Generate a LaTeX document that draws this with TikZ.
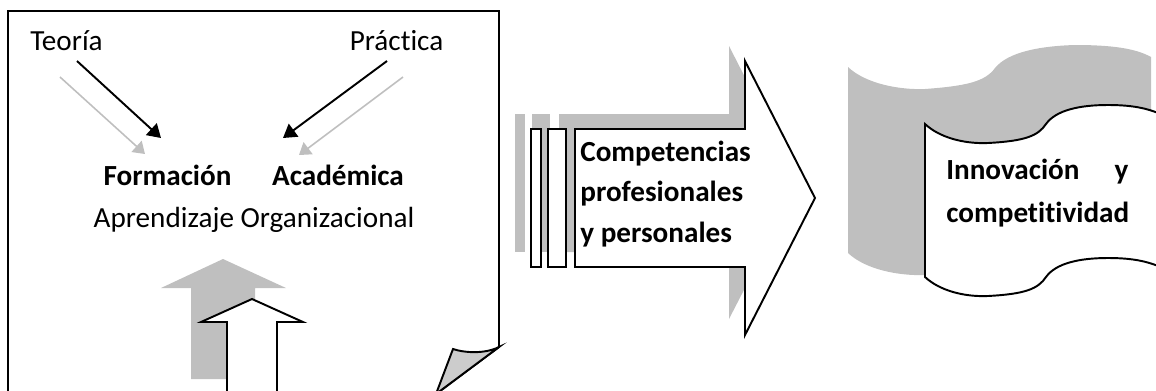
\documentclass[tikz,border=0pt]{standalone}
\usepackage{fontspec}
\setmainfont{Carlito}[Ligatures={CommonOff}]
\usetikzlibrary{arrows.meta,positioning}
\definecolor{shadegray}{RGB}{191,191,191}
\definecolor{flapgray}{RGB}{204,204,204}

\begin{document}
\begin{tikzpicture}[x=0.02cm,y=-0.02cm,
        txt/.style={inner sep=0pt,anchor=base,font=\fontsize{16.6}{23.2}\selectfont},
        btxt/.style={txt,font=\fontsize{16.6}{23.2}\selectfont\bfseries},
        blackarrow/.style={black,line width=1.1pt,-{Triangle[length=7.5pt,width=9pt]}},
        grayarrow/.style={shadegray,line width=0.9pt,-{Triangle[length=6.5pt,width=8.5pt]}},
        outline/.style={black,line width=1.1pt,line join=miter}]
                \useasboundingbox (0,0) rectangle (1156,390);
                \clip (0,0) rectangle (1156,390);

                % hoja con la esquina doblada
                \draw[outline] (8,400) -- (8,11) -- (499,11) -- (499,347) -- (436,394);
                \draw[outline, fill=flapgray] (499,347) .. controls (485,354) and (465,353) .. (453,349) -- (436,394) -- cycle;

                \node[txt] (teoria) at (66.5,50) {Teoría};
                \node[txt] (practica) at (396.5,50) {Práctica};
                \node[btxt] (formacion) at (167.5,185) {Formación};
                \node[btxt] (academica) at (338,185) {Académica};
                \node[txt] (aprendizaje) at (254,227) {Aprendizaje Organizacional};

                \draw[grayarrow] ([shift={(-6.5,27)}]teoria.base) -- ([shift={(-22.5,-31)}]formacion.base);
                \draw[blackarrow] ([shift={(10.5,11)}]teoria.base) -- ([shift={(-6.5,-47)}]formacion.base);
                \draw[grayarrow] ([shift={(6.5,27)}]practica.base) -- ([shift={(-39,-30)}]academica.base);
                \draw[blackarrow] ([shift={(-9.5,11)}]practica.base) -- ([shift={(-55,-47)}]academica.base);

                \fill[shadegray] (191,379) -- (191,288) -- (161,288) -- (223,259) -- (286,288) -- (255,288) -- (255,379) -- cycle;
                \draw[outline, fill=white] (227,395) -- (227,322) -- (201,322) -- (252,299) -- (303,322) -- (277,322) -- (277,395);

                % flecha grande
                \fill[shadegray] (515,114) rectangle (525,252);
                \fill[shadegray] (532,114) rectangle (550,252);
                \fill[shadegray] (559,114) -- (729,114) -- (729,46) -- (799,183) -- (729,319) -- (729,252) -- (559,252) -- cycle;
                \draw[outline, fill=white] (531,129) rectangle (541,267);
                \draw[outline, fill=white] (548,129) rectangle (566,267);
                \draw[outline, fill=white] (575,129) -- (745,129) -- (745,61) -- (815,198) -- (745,335) -- (745,267) -- (575,267) -- cycle;
                \node[btxt, anchor=west, align=left] (competencias) at (580,194) {Competencias\\profesionales\\y personales};

                % cinta perforada
                \fill[shadegray] (848,67) .. controls (866,84) and (900,90) .. (925,89) .. controls (965,86) and (985,82) .. (995,68) .. controls (1008,52) and (1040,46) .. (1075,45) .. controls (1110,45) and (1135,48) .. (1151,57) -- (1151,243) .. controls (1135,234) and (1110,231) .. (1075,231) .. controls (1040,232) and (1008,238) .. (995,254) .. controls (985,268) and (965,272) .. (925,275) .. controls (900,276) and (866,270) .. (848,253) -- cycle;
                \draw[outline, fill=white] (925,124) .. controls (940,138) and (965,144) .. (988,143) .. controls (1025,141) and (1038,136) .. (1046,124) .. controls (1056,110) and (1080,105) .. (1108,105) .. controls (1135,105) and (1150,109) .. (1165,116) -- (1165,269) .. controls (1150,262) and (1135,258) .. (1108,258) .. controls (1080,258) and (1056,263) .. (1046,277) .. controls (1038,289) and (1025,294) .. (988,296) .. controls (965,297) and (940,291) .. (925,277) -- cycle;
                \node[btxt, anchor=west, align=left, text width=3.64cm, font=\fontsize{16.6}{24.9}\selectfont\bfseries] (innovacion) at (946,193) {Innovación\hfill y\\competitividad};
                \end{tikzpicture}
\end{document}
